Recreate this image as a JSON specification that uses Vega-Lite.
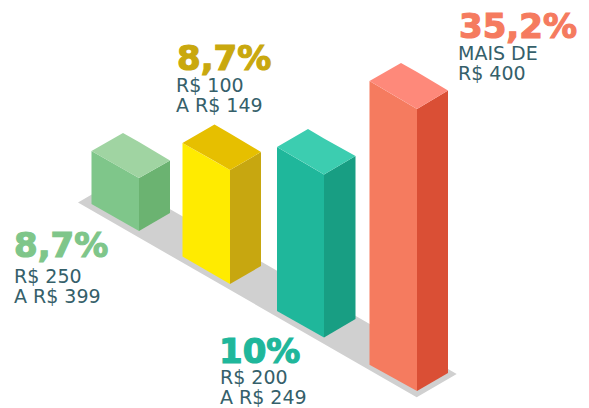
{
"$schema":"https://vega.github.io/schema/vega-lite/v6.json",
"width":589,"height":408,"padding":0,
"autosize":{"type":"fit","contains":"padding"},
"background":"white",
"view":{"stroke":null},
"datasets":{
"floor":[{"x":78,"y":202.5,"y2":202.5},{"x":118,"y":179.2,"y2":225.5},{"x":416.7,"y":351,"y2":397.3},{"x":456.7,"y":374,"y2":374}],
"faces":[
{"face":"g-l","x":91.5,"y":151,"y2":204},{"face":"g-l","x":139,"y":178,"y2":231},
{"face":"g-r","x":139,"y":178,"y2":231},{"face":"g-r","x":170,"y":160.5,"y2":213},
{"face":"g-t","x":91.5,"y":151,"y2":151},{"face":"g-t","x":123,"y":133,"y2":168.9},{"face":"g-t","x":139,"y":142,"y2":178},{"face":"g-t","x":170,"y":160.5,"y2":160.5},
{"face":"y-l","x":182.5,"y":143,"y2":256.5},{"face":"y-l","x":230,"y":170,"y2":284},
{"face":"y-r","x":230,"y":170,"y2":284},{"face":"y-r","x":261,"y":152,"y2":266},
{"face":"y-t","x":182.5,"y":143,"y2":143},{"face":"y-t","x":214.5,"y":124.5,"y2":161},{"face":"y-t","x":230,"y":133.5,"y2":170},{"face":"y-t","x":261,"y":152,"y2":152},
{"face":"t-l","x":277,"y":147,"y2":311},{"face":"t-l","x":324,"y":174.5,"y2":337.5},
{"face":"t-r","x":324,"y":174.5,"y2":337.5},{"face":"t-r","x":355.5,"y":156,"y2":319},
{"face":"t-t","x":277,"y":147,"y2":147},{"face":"t-t","x":308,"y":129,"y2":165},{"face":"t-t","x":324,"y":138.5,"y2":174.5},{"face":"t-t","x":355.5,"y":156,"y2":156},
{"face":"r-l","x":369.5,"y":81,"y2":364.7},{"face":"r-l","x":417,"y":109,"y2":391},
{"face":"r-r","x":417,"y":109,"y2":391},{"face":"r-r","x":448,"y":90.5,"y2":373},
{"face":"r-t","x":369.5,"y":81,"y2":81},{"face":"r-t","x":401,"y":63,"y2":99.5},{"face":"r-t","x":417,"y":72,"y2":109},{"face":"r-t","x":448,"y":90.5,"y2":90.5}
],
"pct":[
{"t":"8,7%","x":14,"y":257,"c":"green"},
{"t":"8,7%","x":177,"y":70,"c":"yellow"},
{"t":"10%","x":219,"y":363,"c":"teal"},
{"t":"35,2%","x":459,"y":37.5,"c":"red"}
],
"range":[
{"t":"R$ 250","x":14,"y":283},{"t":"A R$ 399","x":14,"y":303},
{"t":"R$ 100","x":176,"y":91.5},{"t":"A R$ 149","x":176,"y":111.5},
{"t":"R$ 200","x":220,"y":384},{"t":"A R$ 249","x":220,"y":404},
{"t":"MAIS DE","x":458,"y":60},{"t":"R$ 400","x":458,"y":79.5}
]
},
"layer":[
{"data":{"name":"floor"},"mark":{"type":"area","color":"#D0D0D0"},
 "encoding":{
  "x":{"field":"x","type":"quantitative","scale":{"domain":[0,589],"nice":false,"zero":false},"axis":null},
  "y":{"field":"y","type":"quantitative","scale":{"domain":[0,408],"reverse":true,"nice":false,"zero":false},"axis":null,"stack":null},
  "y2":{"field":"y2"}}},
{"data":{"name":"faces"},"mark":{"type":"area"},
 "encoding":{
  "x":{"field":"x","type":"quantitative","scale":{"domain":[0,589],"nice":false,"zero":false},"axis":null},
  "y":{"field":"y","type":"quantitative","scale":{"domain":[0,408],"reverse":true,"nice":false,"zero":false},"axis":null,"stack":null},
  "y2":{"field":"y2"},
  "color":{"field":"face","type":"nominal","legend":null,"scale":{
   "domain":["g-l","g-r","g-t","y-l","y-r","y-t","t-l","t-r","t-t","r-l","r-r","r-t"],
   "range":["#7FC68A","#6BB371","#A0D4A2","#FFEB00","#C7A710","#E6BF00","#1FB79B","#189E83","#3CCDB0","#F57B5F","#DA4F35","#FE897A"]}}}},
{"data":{"name":"pct"},"mark":{"type":"text","align":"left","baseline":"alphabetic","font":"DejaVu Sans","fontWeight":"bold","fontSize":34,"strokeWidth":1.2},
 "encoding":{
  "x":{"field":"x","type":"quantitative","scale":{"domain":[0,589],"nice":false,"zero":false},"axis":null},
  "y":{"field":"y","type":"quantitative","scale":{"domain":[0,408],"reverse":true,"nice":false,"zero":false},"axis":null},
  "text":{"field":"t"},
  "fill":{"field":"c","type":"nominal","legend":null,"scale":{"domain":["green","yellow","teal","red"],"range":["#7FC68A","#C9A80E","#1FB79B","#F57B5F"]}},
  "stroke":{"field":"c","type":"nominal","legend":null,"scale":{"domain":["green","yellow","teal","red"],"range":["#7FC68A","#C9A80E","#1FB79B","#F57B5F"]}}}},
{"data":{"name":"range"},"mark":{"type":"text","align":"left","baseline":"alphabetic","font":"DejaVu Sans","fontSize":19,"color":"#35606A"},
 "encoding":{
  "x":{"field":"x","type":"quantitative","scale":{"domain":[0,589],"nice":false,"zero":false},"axis":null},
  "y":{"field":"y","type":"quantitative","scale":{"domain":[0,408],"reverse":true,"nice":false,"zero":false},"axis":null},
  "text":{"field":"t"}}}
],
"resolve":{"scale":{"color":"independent","fill":"independent","stroke":"independent"}}
}
